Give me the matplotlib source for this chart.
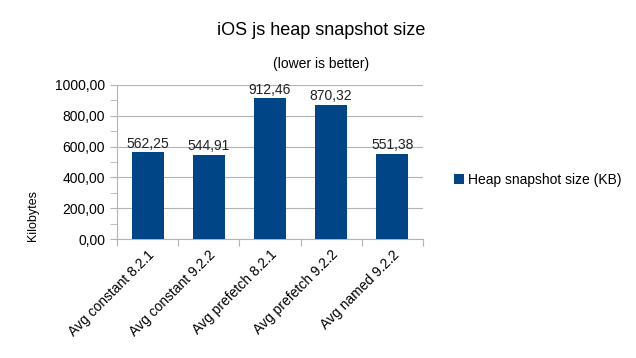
import numpy as np
import matplotlib
matplotlib.use("Agg")
import matplotlib.pyplot as plt
from matplotlib.ticker import FuncFormatter, MultipleLocator

plt.rcParams['font.family'] = ['Liberation Sans', 'DejaVu Sans']

categories = ["Avg constant 8.2.1", "Avg constant 9.2.2", "Avg prefetch 8.2.1",
              "Avg prefetch 9.2.2", "Avg named 9.2.2"]
values = [562.25, 544.91, 912.46, 870.32, 551.38]
series_name = "Heap snapshot size (KB)"

def comma(v):
    return f"{v:.2f}".replace('.', ',')

fig = plt.figure(figsize=(6.36, 3.58), dpi=100)
ax = fig.add_axes([0.184, 0.332, 0.481, 0.431])

x = np.arange(len(categories))
bars = ax.bar(x, values, width=0.52, color='#004586', label=series_name, zorder=3)
for xi, v in zip(x, values):
    ax.text(xi, v + 12, comma(v), ha='center', va='bottom', fontsize=10, color='#222222')

ax.set_xlim(-0.5, len(categories) - 0.5)
ax.set_ylim(0, 1000)
ax.yaxis.set_major_locator(MultipleLocator(200))
ax.yaxis.set_minor_locator(MultipleLocator(100))
ax.yaxis.set_major_formatter(FuncFormatter(lambda v, p: comma(v)))
ax.grid(axis='y', which='major', color='#b3b3b3', linewidth=0.8, zorder=0)

# ticks at category boundaries, labels at centres
ax.set_xticks(np.arange(len(categories) + 1) - 0.5)
ax.set_xticklabels([])
ax.set_xticks(x, minor=True)
ax.set_xticklabels(categories, minor=True, rotation=45, ha='right',
                   rotation_mode='anchor', fontsize=10)
ax.tick_params(axis='x', which='minor', length=0, pad=6)
ax.tick_params(axis='x', which='major', length=5, color='#b3b3b3')
ax.tick_params(axis='y', which='both', length=5, color='#b3b3b3', labelsize=10)

for s in ['top', 'right']:
    ax.spines[s].set_visible(False)
for s in ['left', 'bottom']:
    ax.spines[s].set_color('#b3b3b3')

ax.set_ylabel("Kilobytes", fontsize=9)
ax.yaxis.set_label_coords(-0.255, 0.15)

fig.text(0.505, 0.915, "iOS js heap snapshot size", ha='center', va='center', fontsize=13)
fig.text(0.505, 0.82, "(lower is better)", ha='center', va='center', fontsize=10)

fig.legend(handles=[bars], labels=[series_name], loc='center left',
           bbox_to_anchor=(0.694, 0.497), frameon=False, fontsize=10,
           handlelength=0.7, handleheight=0.7, handletextpad=0.3)

fig.savefig("out.png", dpi=100)
